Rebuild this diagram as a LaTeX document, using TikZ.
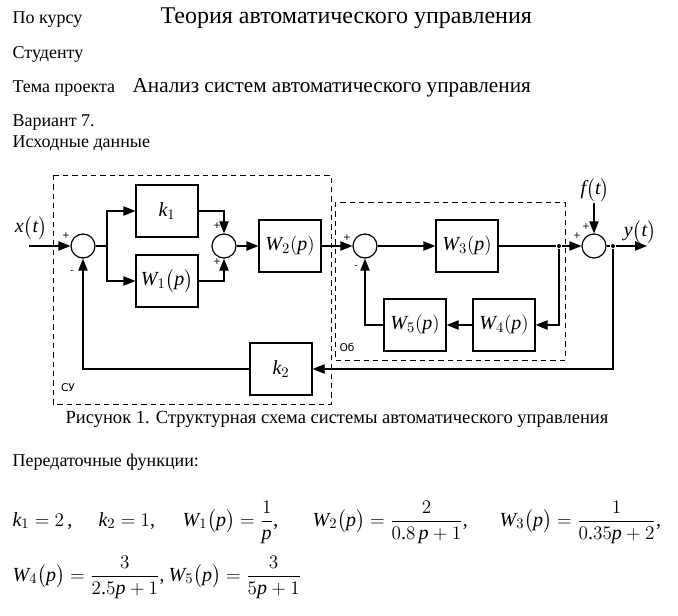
\documentclass[tikz,border=0pt]{standalone}
\usepackage{amsmath}
\usepackage{fontspec}
\setmainfont{Liberation Serif}
\newfontfamily\labelfont{DejaVu Sans}
\newfontfamily\mathtimes{Liberation Serif}[NFSSFamily=mathtimes]
\DeclareSymbolFont{timesit}{TU}{mathtimes}{m}{it}
\DeclareSymbolFont{timesrm}{TU}{mathtimes}{m}{n}
\DeclareMathSymbol{k}{\mathalpha}{timesit}{`k}
\DeclareMathSymbol{W}{\mathalpha}{timesit}{`W}
\DeclareMathSymbol{p}{\mathalpha}{timesit}{`p}
\DeclareMathSymbol{x}{\mathalpha}{timesit}{`x}
\DeclareMathSymbol{y}{\mathalpha}{timesit}{`y}
\DeclareMathSymbol{f}{\mathalpha}{timesit}{`f}
\DeclareMathSymbol{t}{\mathalpha}{timesit}{`t}
\DeclareMathSymbol{0}{\mathalpha}{timesrm}{`0}
\DeclareMathSymbol{1}{\mathalpha}{timesrm}{`1}
\DeclareMathSymbol{2}{\mathalpha}{timesrm}{`2}
\DeclareMathSymbol{3}{\mathalpha}{timesrm}{`3}
\DeclareMathSymbol{4}{\mathalpha}{timesrm}{`4}
\DeclareMathSymbol{5}{\mathalpha}{timesrm}{`5}
\DeclareMathSymbol{8}{\mathalpha}{timesrm}{`8}
\DeclareMathSymbol{.}{\mathord}{timesrm}{`.}
\usetikzlibrary{arrows.meta,positioning,calc}

\begin{document}
\begin{tikzpicture}[
    x=0.75pt, y=-0.75pt,
    >={Triangle[length=9pt,width=7pt]},
    line width=0.9pt,
    txt/.style={anchor=base west, inner sep=0pt, font=\fontsize{13.5}{16}\selectfont},
    bigtxt/.style={anchor=base west, inner sep=0pt, font=\fontsize{18}{21}\selectfont},
    block/.style={draw, minimum width=46.5pt, minimum height=39pt, inner sep=0pt, font=\fontsize{15}{17}\selectfont},
    sum/.style={draw, circle, minimum size=18pt, inner sep=0pt},
    sign/.style={font=\labelfont\fontsize{7}{8}\selectfont, inner sep=0pt},
    frame/.style={draw, line width=0.6pt, dash pattern=on 4pt off 3pt},
    framelabel/.style={font=\labelfont\fontsize{8}{9}\selectfont, inner sep=0pt},
    sig/.style={font=\fontsize{15}{17}\selectfont, inner sep=0pt},
    eq/.style={anchor=base west, inner sep=0pt, font=\fontsize{15}{18}\selectfont},
    dot/.style={circle, fill, inner sep=0pt, minimum size=3pt},
]
    \useasboundingbox (0,0) rectangle (678,616);

    % header
    \node[txt] (course) at (12,24) {По курсу};
    \node[bigtxt] (subject) at (160,24) {Теория автоматического управления};
    \node[txt] (student) at (12,59) {Студенту};
    \node[txt] (topic) at (12,93) {Тема проекта};
    \node[bigtxt, font=\fontsize{15.9}{19}\selectfont] (theme) at (132,93) {Анализ систем автоматического управления};
    \node[txt] (variant) at (12,127) {Вариант 7.};
    \node[txt] (initial) at (12,148) {Исходные данные};

    % control device
    \draw[frame] (53,175) rectangle (331,404);
    \node[framelabel] (lsu) at (68,388) {СУ};
    \node[sum] (sumA) at (83,246) {};
    \node[sum] (sumB) at (224,246) {};
    \node[block] (k1) at (167,211) {$k_1$};
    \node[block] (W1) at (167,281) {$W_1\bigl(p\bigr)$};
    \node[block] (W2) at (290,246) {$W_2(p)$};
    \node[block] (k2) at (281,369) {$k_2$};
    \coordinate (xin) at (29,246);
    \coordinate (br1) at (107,246);

    % plant
    \draw[frame] (335,202) rectangle (565,360);
    \node[framelabel] (lob) at (347,347) {Об};
    \node[sum] (sumC) at (365,246) {};
    \node[block] (W3) at (467,246) {$W_3(p)$};
    \node[block] (W4) at (504,325) {$W_4(p)$};
    \node[block] (W5) at (415,325) {$W_5(p)$};
    \node[dot] (brO) at (559,246) {};

    % disturbance and output
    \node[sum] (sumD) at (594,246) {};
    \node[sig] (ft) at (595,190) {$f\bigl(t\bigr)$};
    \coordinate (fin) at (594,203);
    \node[dot] (brY) at (613,246) {};
    \coordinate (yout) at (647,246);
    \node[sig] (xt) at (31,228) {$x\bigl(t\bigr)$};
    \node[sig] (yt) at (640,232) {$y\bigl(t\bigr)$};

    % signs
    \node[sign] (sA1) at (66,236) {+};
    \node[sign] (sA2) at (72,272) {-};
    \node[sign] (sB1) at (217,226) {+};
    \node[sign] (sB2) at (217,262) {+};
    \node[sign] (sC1) at (347,238) {+};
    \node[sign] (sC2) at (356,267) {-};
    \node[sign] (sD1) at (577,236) {+};
    \node[sign] (sD2) at (586,227) {+};

    % connections
    \draw[->] (xin) -- (sumA);
    \draw (sumA) -- (br1);
    \draw[->] (br1) |- (k1);
    \draw[->] (br1) |- (W1);
    \draw[->] (k1) -| (sumB);
    \draw[->] (W1) -| (sumB);
    \draw[->] (sumB) -- (W2);
    \draw[->] (W2) -- (sumC);
    \draw[->] (sumC) -- (W3);
    \draw (W3) -- (brO);
    \draw[->] (brO) -- (sumD);
    \draw[->] (brO) |- (W4);
    \draw[->] (W4) -- (W5);
    \draw[->] (W5) -| (sumC);
    \draw[->] (fin) -- (sumD);
    \draw (sumD) -- (brY);
    \draw[->] (brY) -- (yout);
    \draw[->] (brY) |- (k2);
    \draw[->] (k2) -| (sumA);

    \node[txt, anchor=base, font=\fontsize{13.9}{16}\selectfont] (caption) at (337,423) {Рисунок 1. Структурная схема системы автоматического управления};

    % transfer functions
    \node[txt] (tf) at (12,466) {Передаточные функции:};
    \node[eq] (eqk1) at (12,526) {$k_1=2\,$,};
    \node[eq] (eqk2) at (98,526) {$k_2=1$,};
    \node[eq] (eqW1) at (182,526) {$W_1\bigl(p\bigr)=\dfrac{1}{p}$,};
    \node[eq] (eqW2) at (312,526) {$W_2\bigl(p\bigr)=\dfrac{2}{0.8\,p+1}$,};
    \node[eq] (eqW3) at (499,526) {$W_3\bigl(p\bigr)=\dfrac{1}{0.35p+2}$,};
    \node[eq] (eqW4) at (12,581) {$W_4\bigl(p\bigr)=\dfrac{3}{2.5p+1}$,};
    \node[eq] (eqW5) at (168,581) {$W_5\bigl(p\bigr)=\dfrac{3}{5p+1}$};

\end{tikzpicture}
\end{document}
